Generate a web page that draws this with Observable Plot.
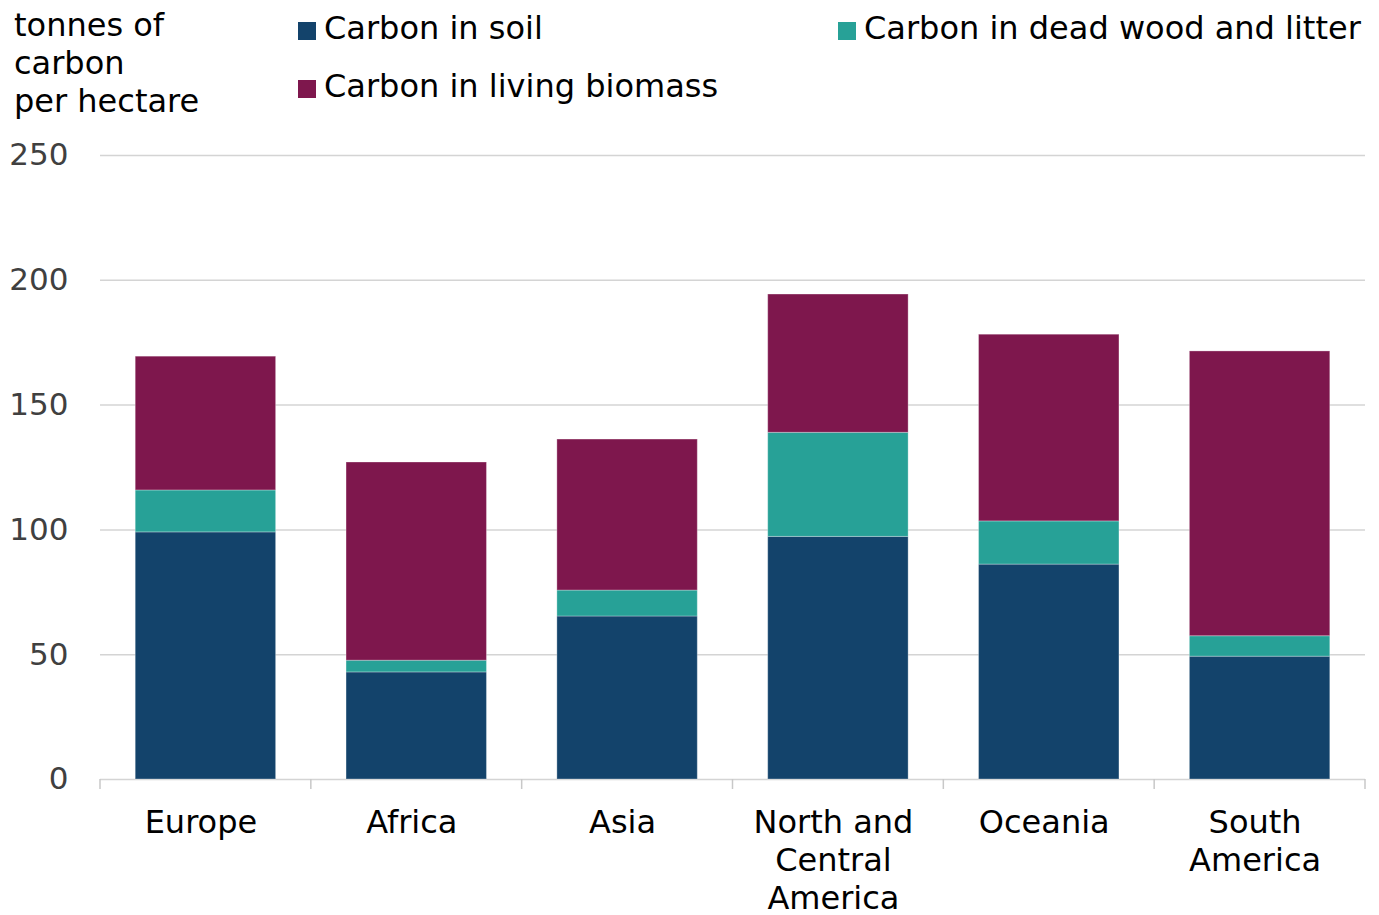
<!DOCTYPE html>
<html>
<head>
<meta charset="utf-8">
<script src="https://cdn.jsdelivr.net/npm/d3@7"></script>
<script src="https://cdn.jsdelivr.net/npm/@observablehq/plot@0.6"></script>
<style>
  body { margin: 0; background: #fff; font-family: "DejaVu Sans", Verdana, sans-serif; }
  #wrap { position: relative; width: 1379px; height: 915px; }
  #header { position: relative; width: 1379px; height: 130px; font-size: 32px; color: #000; }
  .ytitle { position: absolute; left: 14px; top: 6px; line-height: 38px; }
  .leg { position: absolute; white-space: nowrap; line-height: 38px; }
  .leg .sw { display: inline-block; width: 18px; height: 18px; margin-right: 8px; vertical-align: -1px; }
</style>
</head>
<body>
<div id="wrap">
  <div id="header"></div>
  <div id="chart"></div>
</div>
<script>
const categories = ["Europe", "Africa", "Asia", "North and Central America", "Oceania", "South America"];
const categoryLabels = ["Europe", "Africa", "Asia", "North and\nCentral\nAmerica", "Oceania", "South\nAmerica"];
const seriesNames = ["Carbon in soil", "Carbon in dead wood and litter", "Carbon in living biomass"];
const seriesColors = ["#13436b", "#27a197", "#7e174d"];
const soil = [99.0, 42.9, 65.3, 97.2, 86.1, 49.2];
const deadWood = [16.8, 4.7, 10.4, 41.7, 17.3, 8.2];
const living = [53.6, 79.4, 60.5, 55.4, 74.8, 114.1];
const yTicks = [0, 50, 100, 150, 200, 250];
const yTitle = "tonnes of\ncarbon\nper hectare";

const seriesValues = [soil, deadWood, living];
const rows = [];
seriesNames.forEach((s, si) => {
  categories.forEach((c, ci) => rows.push({category: c, series: s, value: seriesValues[si][ci]}));
});

// Header: y title + legend
const header = document.getElementById("header");
const yt = document.createElement("div");
yt.className = "ytitle";
yt.innerHTML = yTitle.split("\n").join("<br>");
header.appendChild(yt);
const legendPos = [{left: 298, top: 9}, {left: 838, top: 9}, {left: 298, top: 67}];
seriesNames.forEach((s, i) => {
  const d = document.createElement("div");
  d.className = "leg";
  d.style.left = legendPos[i].left + "px";
  d.style.top = legendPos[i].top + "px";
  d.innerHTML = `<span class="sw" style="background:${seriesColors[i]}"></span>${s}`;
  header.appendChild(d);
});

const labelOf = new Map(categories.map((c, i) => [c, categoryLabels[i]]));

const plot = Plot.plot({
  width: 1379,
  height: 785,
  marginTop: 25,
  marginBottom: 136,
  marginLeft: 100,
  marginRight: 14,
  style: {fontSize: "32px", fontFamily: "DejaVu Sans, Verdana, sans-serif", background: "#fff", overflow: "visible"},
  x: {domain: categories, paddingInner: 0.334, paddingOuter: 0.167, round: false, label: null},
  y: {domain: [0, 250], label: null},
  color: {domain: seriesNames, range: seriesColors},
  marks: [
    Plot.ruleY(yTicks, {stroke: "#d4d4d4", strokeWidth: 1.5}),
    Plot.barY(rows, {x: "category", y: "value", fill: "series", stroke: "#ffffff", strokeOpacity: 0.3, strokeWidth: 1}),
    Plot.axisY(yTicks, {tickSize: 0, tickPadding: 32, fill: "#404040", fontSize: 31}),
    Plot.axisX({tickSize: 0, tickPadding: 27, dx: -5, fill: "#000", tickFormat: d => labelOf.get(d), lineHeight: 1.18})
  ]
});
document.getElementById("chart").appendChild(plot);

// boundary tick marks under the baseline, from the plot's x scale
const xs = plot.scale("x");
const ys = plot.scale("y");
const y0 = ys.apply(0);
const bounds = d3.range(categories.length + 1).map(i => xs.range[0] + i * xs.step);
d3.select(plot).append("g")
  .attr("stroke", "#c8c8c8").attr("stroke-width", 1.5)
  .selectAll("line").data(bounds).join("line")
  .attr("x1", d => d).attr("x2", d => d)
  .attr("y1", y0).attr("y2", y0 + 10);
</script>
</body>
</html>
